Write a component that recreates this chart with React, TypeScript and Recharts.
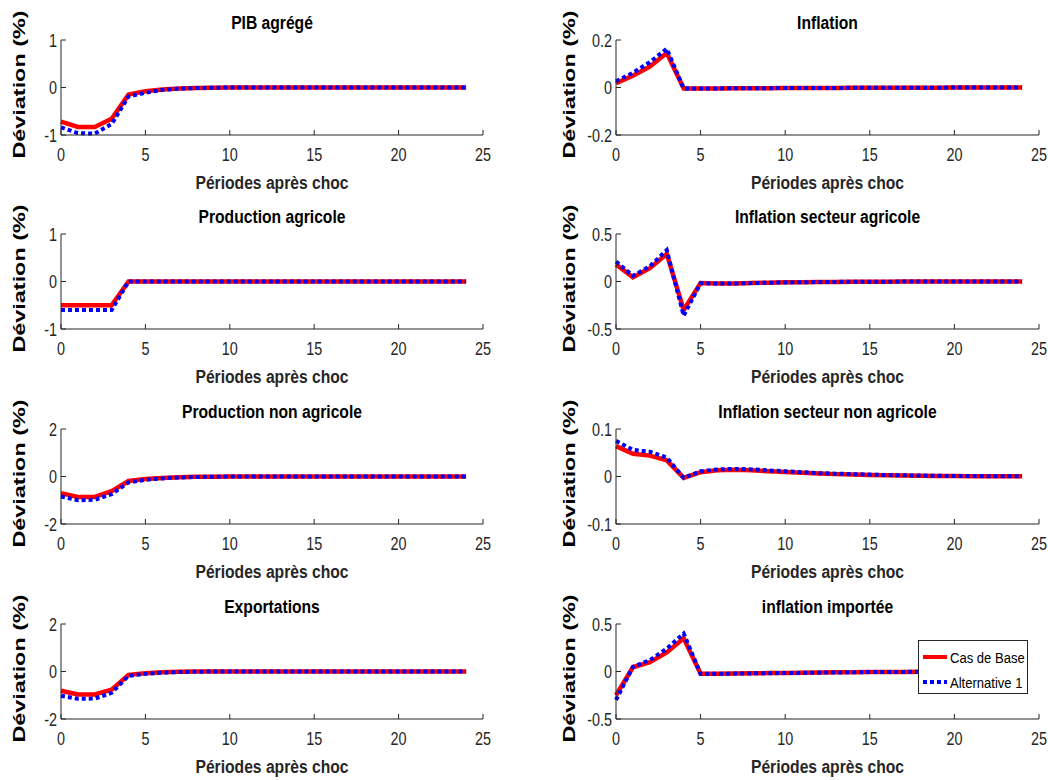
import { LineChart, Line, XAxis, YAxis, Legend } from "recharts";

const periods = [0, 1, 2, 3, 4, 5, 6, 7, 8, 9, 10, 11, 12, 13, 14, 15, 16, 17, 18, 19, 20, 21, 22, 23, 24];
const xTicks = [0, 5, 10, 15, 20, 25];

const pibBase = [-0.72, -0.83, -0.83, -0.66, -0.15, -0.08, -0.04, -0.02, -0.01, -0.005, 0, 0, 0, 0, 0, 0, 0, 0, 0, 0, 0, 0, 0, 0, 0];
const pibAlt = [-0.84, -0.96, -0.97, -0.77, -0.19, -0.11, -0.05, -0.025, -0.01, -0.005, 0, 0, 0, 0, 0, 0, 0, 0, 0, 0, 0, 0, 0, 0, 0];

const inflBase = [0.018, 0.05, 0.088, 0.145, -0.004, -0.004, -0.004, -0.003, -0.003, -0.003, -0.002, -0.002, -0.002, -0.002, -0.001, -0.001, -0.001, -0.001, -0.001, -0.001, 0, 0, 0, 0, 0];
const inflAlt = [0.026, 0.062, 0.107, 0.163, -0.004, -0.004, -0.004, -0.003, -0.003, -0.003, -0.002, -0.002, -0.002, -0.002, -0.001, -0.001, -0.001, -0.001, -0.001, -0.001, 0, 0, 0, 0, 0];

const agriBase = [-0.5, -0.5, -0.5, -0.5, 0, 0, 0, 0, 0, 0, 0, 0, 0, 0, 0, 0, 0, 0, 0, 0, 0, 0, 0, 0, 0];
const agriAlt = [-0.6, -0.6, -0.6, -0.6, 0, 0, 0, 0, 0, 0, 0, 0, 0, 0, 0, 0, 0, 0, 0, 0, 0, 0, 0, 0, 0];

const inflAgriBase = [0.18, 0.045, 0.14, 0.29, -0.3, -0.015, -0.02, -0.02, -0.016, -0.012, -0.009, -0.007, -0.005, -0.004, -0.003, -0.002, -0.002, -0.001, -0.001, -0.001, 0, 0, 0, 0, 0];
const inflAgriAlt = [0.21, 0.06, 0.16, 0.33, -0.36, -0.018, -0.022, -0.021, -0.017, -0.013, -0.01, -0.008, -0.006, -0.004, -0.003, -0.002, -0.002, -0.001, -0.001, -0.001, 0, 0, 0, 0, 0];

const nonAgriBase = [-0.7, -0.86, -0.86, -0.62, -0.19, -0.11, -0.06, -0.03, -0.015, -0.007, -0.003, 0, 0, 0, 0, 0, 0, 0, 0, 0, 0, 0, 0, 0, 0];
const nonAgriAlt = [-0.84, -1.0, -0.98, -0.74, -0.25, -0.14, -0.08, -0.04, -0.02, -0.01, -0.004, 0, 0, 0, 0, 0, 0, 0, 0, 0, 0, 0, 0, 0, 0];

const inflNonAgriBase = [0.064, 0.048, 0.044, 0.034, -0.003, 0.009, 0.013, 0.014, 0.013, 0.011, 0.0095, 0.008, 0.0065, 0.005, 0.004, 0.003, 0.0025, 0.002, 0.0015, 0.001, 0.001, 0.0007, 0.0005, 0.0004, 0.0003];
const inflNonAgriAlt = [0.075, 0.056, 0.052, 0.04, -0.003, 0.011, 0.015, 0.016, 0.015, 0.013, 0.011, 0.009, 0.007, 0.006, 0.005, 0.004, 0.003, 0.0025, 0.002, 0.0015, 0.001, 0.001, 0.0007, 0.0005, 0.0004];

const exportBase = [-0.81, -0.97, -0.97, -0.77, -0.14, -0.07, -0.03, -0.01, -0.005, 0, 0, 0, 0, 0, 0, 0, 0, 0, 0, 0, 0, 0, 0, 0, 0];
const exportAlt = [-1.02, -1.15, -1.14, -0.9, -0.18, -0.1, -0.05, -0.02, -0.01, 0, 0, 0, 0, 0, 0, 0, 0, 0, 0, 0, 0, 0, 0, 0, 0];

const importBase = [-0.25, 0.045, 0.098, 0.2, 0.35, -0.024, -0.023, -0.021, -0.019, -0.017, -0.015, -0.013, -0.011, -0.009, -0.007, -0.006, -0.005, -0.004, -0.003, -0.002, -0.002, -0.001, -0.001, -0.001, 0];
const importAlt = [-0.3, 0.05, 0.12, 0.24, 0.4, -0.025, -0.024, -0.022, -0.02, -0.018, -0.016, -0.014, -0.012, -0.01, -0.008, -0.006, -0.005, -0.004, -0.003, -0.002, -0.002, -0.001, -0.001, -0.001, 0];

const seriesOrder = ["base", "alt"];

const INK = "#262626";
const FONT = "'Liberation Sans', Arial, Helvetica, sans-serif";
const SQUEEZE = 0.87; // the reference text is horizontally condensed

const rowTops = [40, 234, 429, 624];

const panels = [
  { title: "PIB agrégé", base: pibBase, alt: pibAlt, yTicks: [-1, 0, 1], col: 0, row: 0 },
  { title: "Inflation", base: inflBase, alt: inflAlt, yTicks: [-0.2, 0, 0.2], col: 1, row: 0 },
  { title: "Production agricole", base: agriBase, alt: agriAlt, yTicks: [-1, 0, 1], col: 0, row: 1 },
  { title: "Inflation secteur agricole", base: inflAgriBase, alt: inflAgriAlt, yTicks: [-0.5, 0, 0.5], col: 1, row: 1 },
  { title: "Production non agricole", base: nonAgriBase, alt: nonAgriAlt, yTicks: [-2, 0, 2], col: 0, row: 2 },
  { title: "Inflation secteur non agricole", base: inflNonAgriBase, alt: inflNonAgriAlt, yTicks: [-0.1, 0, 0.1], col: 1, row: 2 },
  { title: "Exportations", base: exportBase, alt: exportAlt, yTicks: [-2, 0, 2], col: 0, row: 3 },
  { title: "inflation importée", base: importBase, alt: importAlt, yTicks: [-0.5, 0, 0.5], col: 1, row: 3, legend: true },
];

function NarrowText({ x, y, anchor, size, bold, fill, squeeze, children }: any) {
  return (
    <text
      transform={`translate(${x} ${y}) scale(${squeeze || SQUEEZE} 1)`}
      textAnchor={anchor}
      fill={fill || INK}
      fontFamily={FONT}
      fontWeight={bold ? "bold" : "normal"}
      fontSize={size}
    >
      {children}
    </text>
  );
}

function BottomTick(props: any) {
  const { x, y, payload } = props;
  return (
    <g>
      <line x1={x} y1={y} x2={x} y2={y - 5} stroke={INK} />
      <NarrowText x={x} y={y + 26} anchor="middle" size={18} squeeze={0.8}>
        {payload.value}
      </NarrowText>
    </g>
  );
}

function TopTick(props: any) {
  const { x, y } = props;
  return <line x1={x} y1={y} x2={x} y2={y + 5} stroke={INK} />;
}

function LeftTick(props: any) {
  const { x, y, payload } = props;
  return (
    <g>
      <line x1={x} y1={y} x2={x + 5} y2={y} stroke={INK} />
      <NarrowText x={x - 4} y={y + 6.5} anchor="end" size={18} squeeze={0.8}>
        {payload.value}
      </NarrowText>
    </g>
  );
}

function RightTick(props: any) {
  const { x, y } = props;
  return <line x1={x} y1={y} x2={x - 5} y2={y} stroke={INK} />;
}

function LegendBox(props: any) {
  const items = [...(props.payload || [])].sort(
    (a: any, b: any) => seriesOrder.indexOf(a.dataKey) - seriesOrder.indexOf(b.dataKey)
  );
  return (
    <svg width={110} height={54} style={{ display: "block" }}>
      <rect x={0.5} y={0.5} width={109} height={53} fill="#fff" stroke={INK} />
      {items.map((it: any, i: number) => {
        const cy = 17 + i * 25;
        return (
          <g key={it.dataKey}>
            <line
              x1={5}
              x2={29}
              y1={cy}
              y2={cy}
              stroke={it.color}
              strokeWidth={4}
              strokeDasharray={it.dataKey === "alt" ? "4 3" : undefined}
            />
            <NarrowText x={32} y={cy + 5.5} anchor="start" size={15} fill="#000">
              {it.value}
            </NarrowText>
          </g>
        );
      })}
    </svg>
  );
}

function Panel({ p }: { p: any }) {
  const data = periods.map((t, i) => ({ t, base: p.base[i], alt: p.alt[i] }));
  const left = p.col === 0 ? 0 : 555;
  const width = p.col === 0 ? 524 : 493;
  const right = p.col === 0 ? 41 : 9;
  const gap = p.col === 0 ? 42 : 47;
  const top = rowTops[p.row] - 40;
  const yDomain = [p.yTicks[0], p.yTicks[2]];

  return (
    <div style={{ position: "absolute", left, top }}>
      <LineChart width={width} height={195} data={data} margin={{ top: 40, right, bottom: 0, left: 0 }}>
        <XAxis
          dataKey="t"
          type="number"
          domain={[0, 25]}
          ticks={xTicks}
          interval={0}
          height={60}
          tickSize={0}
          tickMargin={0}
          tickLine={false}
          axisLine={{ stroke: INK }}
          tick={<BottomTick />}
          label={(lp: any) => {
            const vb = lp.viewBox;
            const cx = vb.x + vb.width / 2;
            return (
              <g>
                <NarrowText x={cx} y={vb.y + 54} anchor="middle" size={18} bold>
                  Périodes après choc
                </NarrowText>
                <NarrowText x={cx} y={vb.y - 106} anchor="middle" size={18} bold fill="#000">
                  {p.title}
                </NarrowText>
              </g>
            );
          }}
        />
        <XAxis
          xAxisId="top"
          orientation="top"
          dataKey="t"
          type="number"
          domain={[0, 25]}
          ticks={xTicks}
          interval={0}
          height={0}
          tickSize={0}
          tickMargin={0}
          tickLine={false}
          axisLine={{ stroke: INK }}
          tick={<TopTick />}
        />
        <YAxis
          type="number"
          domain={yDomain}
          ticks={p.yTicks}
          interval={0}
          width={61}
          tickSize={0}
          tickMargin={0}
          tickLine={false}
          axisLine={{ stroke: INK }}
          tick={<LeftTick />}
          label={(lp: any) => {
            const vb = lp.viewBox;
            const cx = vb.x + vb.width - gap;
            const cy = vb.y + vb.height / 2 - 3;
            return (
              <text
                x={cx}
                y={cy}
                transform={`rotate(-90 ${cx} ${cy})`}
                textAnchor="middle"
                dominantBaseline="central"
                fill="#000"
                fontFamily={FONT}
                fontWeight="bold"
                fontSize={17}
                textLength={148}
                lengthAdjust="spacingAndGlyphs"
              >
                Déviation (%)
              </text>
            );
          }}
        />
        <YAxis
          yAxisId="right"
          orientation="right"
          type="number"
          domain={yDomain}
          ticks={p.yTicks}
          interval={0}
          width={0}
          tickSize={0}
          tickMargin={0}
          tickLine={false}
          axisLine={{ stroke: INK }}
          tick={<RightTick />}
        />
        <Line
          type="linear"
          dataKey="base"
          name="Cas de Base"
          stroke="#ff0000"
          strokeWidth={4.5}
          dot={false}
          activeDot={false}
          isAnimationActive={false}
        />
        <Line
          type="linear"
          dataKey="alt"
          name="Alternative 1"
          stroke="#0000ff"
          strokeWidth={4}
          strokeDasharray="4 3"
          dot={false}
          activeDot={false}
          isAnimationActive={false}
        />
        {p.legend && (
          <Legend
            layout="vertical"
            align="center"
            verticalAlign="middle"
            content={<LegendBox />}
            wrapperStyle={{ left: 363, top: 56, width: 110, height: 54 }}
          />
        )}
      </LineChart>
    </div>
  );
}

export default function App() {
  return (
    <div style={{ position: "absolute", left: 0, top: 0, width: 1048, height: 780, background: "#fff" }}>
      {panels.map((p) => (
        <Panel key={p.title} p={p} />
      ))}
    </div>
  );
}
